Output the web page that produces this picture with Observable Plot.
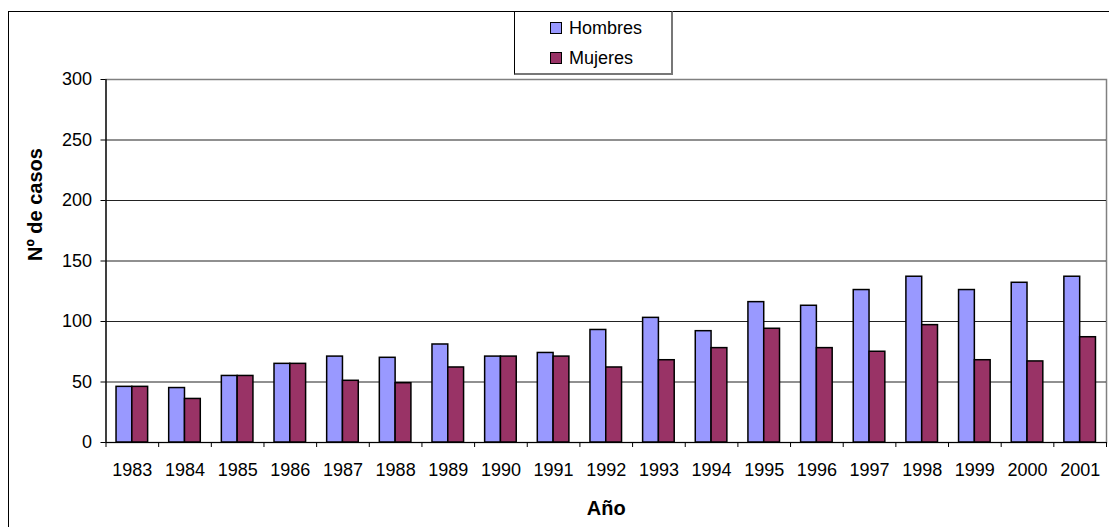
<!DOCTYPE html>
<html>
<head>
<meta charset="utf-8">
<script src="https://cdn.jsdelivr.net/npm/d3@7"></script>
<script src="https://cdn.jsdelivr.net/npm/@observablehq/plot@0.6"></script>
<style>
  html, body { margin: 0; padding: 0; background: #fff; }
  #wrap { position: relative; width: 1109px; height: 527px; overflow: hidden; font-family: "Liberation Sans", Arial, sans-serif; }
  #outer { position: absolute; left: 8px; top: 11px; width: 1120px; height: 540px; border: 1px solid #000; box-sizing: border-box; pointer-events: none; }
  #legend { position: absolute; left: 514px; top: 11px; width: 159px; height: 64px; box-sizing: border-box;
            border-left: 1px solid #000; border-top: 1px solid #000; border-right: 2px solid #777; border-bottom: 2px solid #777; background: #fff; }
  .item { position: absolute; left: 35px; height: 20px; display: flex; align-items: center; font-size: 18px; color: #000; }
  .sw { width: 10px; height: 10px; border: 1px solid #000; margin-right: 7px; }
  svg { position: absolute; left: 0; top: 0; }
</style>
</head>
<body>
<div id="wrap">
  <div id="outer"></div>
  <div id="legend"></div>
</div>
<script>
const years   = [1983,1984,1985,1986,1987,1988,1989,1990,1991,1992,1993,1994,1995,1996,1997,1998,1999,2000,2001];
const hombres = [46,45,55,65,71,70,81,71,74,93,103,92,116,113,126,137,126,132,137];
const mujeres = [46,36,55,65,51,49,62,71,71,62,68,78,94,78,75,97,68,67,87];
const series  = ["Hombres", "Mujeres"];
const colors  = ["#9999FF", "#993366"];
const yTicks  = [0, 50, 100, 150, 200, 250, 300];

const rows = years.flatMap((y, i) => [
  {year: y, serie: series[0], value: hombres[i]},
  {year: y, serie: series[1], value: mujeres[i]}
]);
const x0 = d3.min(years) - 0.5, x1 = d3.max(years) + 0.5;
const edges = d3.range(years.length + 1).map(i => x0 + i);
const half = 0.3;

const font = '"Liberation Sans", Arial, sans-serif';

const chart = Plot.plot({
  width: 1109,
  height: 527,
  marginTop: 79,
  marginBottom: 85,
  marginLeft: 105.5,
  marginRight: 3,
  style: {fontFamily: font, fontSize: "18px", background: "transparent", color: "#000"},
  x: {type: "linear", domain: [x0, x1]},
  y: {domain: [0, 300]},
  color: {domain: series, range: colors},
  marks: [
    Plot.frame({stroke: "#808080", strokeWidth: 1.5}),
    Plot.ruleY(yTicks.filter(t => t > 0 && t < 300), {stroke: "#222", strokeWidth: 1.2}),
    Plot.rectY(rows, {
      x1: d => d.serie === series[0] ? d.year - half : d.year,
      x2: d => d.serie === series[0] ? d.year : d.year + half,
      y: "value",
      fill: "serie",
      stroke: "#000",
      strokeWidth: 1.5
    }),
    Plot.ruleX([x0], {stroke: "#000", strokeWidth: 1.2}),
    Plot.ruleY([0], {stroke: "#000", strokeWidth: 1.2}),
    Plot.axisY({ticks: yTicks, tickSize: 5, tickPadding: 9, fontSize: 18, label: null}),
    Plot.axisX({ticks: years, tickSize: 0, tickPadding: 21, tickFormat: d => String(d), fontSize: 18, label: null}),
    Plot.axisX({ticks: edges, tickSize: 5, tickFormat: () => "", label: null}),
    Plot.text(["Año"], {frameAnchor: "bottom", dy: 66, lineAnchor: "middle", fontSize: 20, fontWeight: "bold", fill: "#000"}),
    Plot.text(["Nº de casos"], {frameAnchor: "left", dx: -70.5, rotate: -90, lineAnchor: "middle", fontSize: 20, fontWeight: "bold", fill: "#000"})
  ]
});
document.getElementById("wrap").insertBefore(chart, document.getElementById("outer"));

const legend = document.getElementById("legend");
series.forEach((s, i) => {
  const item = document.createElement("div");
  item.className = "item";
  item.style.top = (6 + i * 30) + "px";
  const sw = document.createElement("span");
  sw.className = "sw";
  sw.style.background = colors[i];
  const t = document.createElement("span");
  t.textContent = s;
  item.appendChild(sw);
  item.appendChild(t);
  legend.appendChild(item);
});
</script>
</body>
</html>
